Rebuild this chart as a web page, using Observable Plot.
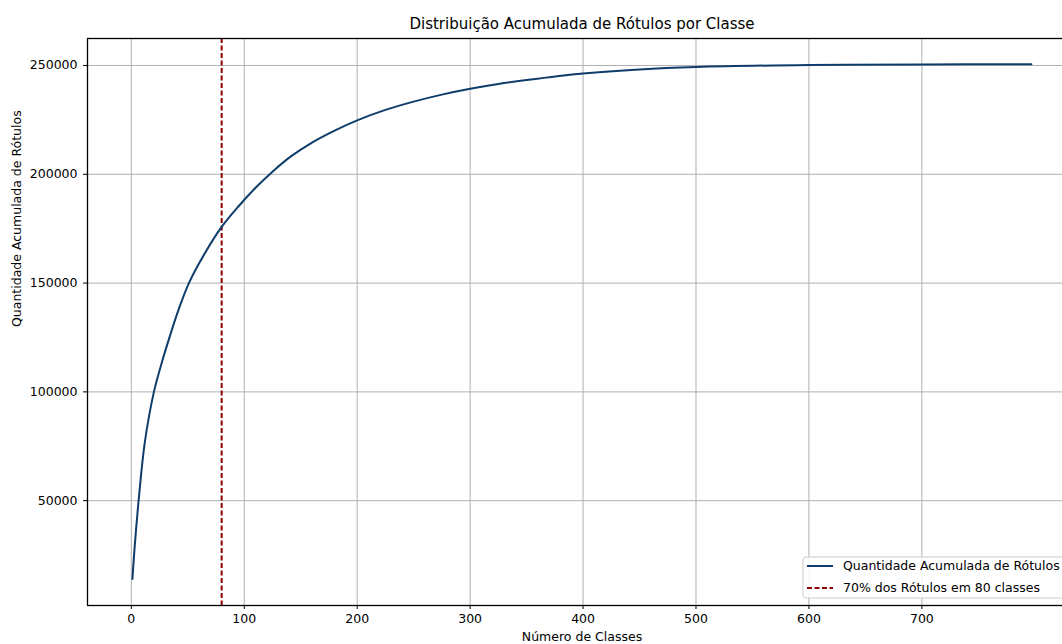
<!DOCTYPE html>
<html><head><meta charset="utf-8">
<script src="https://cdn.jsdelivr.net/npm/d3@7"></script>
<script src="https://cdn.jsdelivr.net/npm/@observablehq/plot@0.6"></script>
<style>
html,body{margin:0;padding:0;background:#fff;overflow:hidden;}
#chart{position:relative;width:1062px;height:644px;overflow:hidden;}
</style></head><body><div id="chart"></div>
<script>
// Data
const classCount = [1, 3, 7, 12, 20, 27, 34, 42, 51, 65, 80, 95, 110, 125, 141, 160, 180, 200, 225, 250, 275, 300, 325, 350, 400, 450, 500, 600, 700, 797];
const cumulativeLabels = [14000, 29000, 53000, 77000, 100000, 113500, 125400, 138000, 150000, 163600, 175800, 185300, 193800, 201200, 208100, 214600, 220100, 224800, 229600, 233400, 236600, 239300, 241500, 243300, 246300, 248200, 249300, 250200, 250450, 250600];
const thresholdClasses = [80];
const xTicks = [0, 100, 200, 300, 400, 500, 600, 700];
const yTicks = [50000, 100000, 150000, 200000, 250000];
const titleText = "Distribuição Acumulada de Rótulos por Classe";
const xLabel = "Número de Classes";
const yLabel = "Quantidade Acumulada de Rótulos";
const legendLabels = ["Quantidade Acumulada de Rótulos", "70% dos Rótulos em 80 classes"];

const data = classCount.map((c, i) => ({c, v: cumulativeLabels[i]}));
const font = "DejaVu Sans, sans-serif";
const lineColor = "#0e3d6b";
const redColor = "#8b0000";

const plot = Plot.plot({
  width: 1062, height: 644,
  marginLeft: 87, marginRight: -2, marginTop: 38, marginBottom: 39,
  style: {fontFamily: font, fontSize: "12.5px", color: "#000", background: "#fff"},
  x: {domain: [-38.8, 826.3], label: null},
  y: {domain: [1835, 262400], label: null},
  marks: [
    Plot.gridX(xTicks, {stroke: "#b0b0b0", strokeOpacity: 1, strokeWidth: 1}),
    Plot.gridY(yTicks, {stroke: "#b0b0b0", strokeOpacity: 1, strokeWidth: 1}),
    Plot.ruleX(thresholdClasses, {stroke: redColor, strokeWidth: 2, strokeDasharray: "5,2.5"}),
    Plot.line(data, {x: "c", y: "v", stroke: lineColor, strokeWidth: 2, curve: "catmull-rom"}),
    Plot.frame({stroke: "#000", strokeWidth: 1.3}),
    Plot.axisX({ticks: xTicks, tickSize: 4, tickPadding: 5, tickFormat: d3.format("d"), label: null}),
    Plot.axisY({ticks: yTicks, tickSize: 4, tickPadding: 6, tickFormat: d3.format("d"), label: null}),
    Plot.text([titleText], {text: d => d, frameAnchor: "top", dx: 6, dy: -14.5, lineAnchor: "middle", fontSize: 15}),
    Plot.text([xLabel], {text: d => d, frameAnchor: "bottom", dx: 6, dy: 31, lineAnchor: "middle"}),
    Plot.text([yLabel], {text: d => d, frameAnchor: "left", dx: -71, dy: 5, rotate: -90, lineAnchor: "middle"})
  ]
});

// Legend (bottom right, clipped at the right edge like the reference)
const svg = d3.select(plot);
const lg = svg.append("g").attr("font-family", font).attr("font-size", 12.5).attr("text-anchor", "start");
lg.append("rect").attr("x", 803).attr("y", 557).attr("width", 300).attr("height", 41).attr("rx", 3)
  .attr("fill", "white").attr("fill-opacity", 0.85).attr("stroke", "#cccccc");
const styles = [{stroke: lineColor, dash: null}, {stroke: redColor, dash: "5,2.5"}];
legendLabels.forEach((t, i) => {
  const y = 566 + i * 22;
  const l = lg.append("line").attr("x1", 807).attr("x2", 833).attr("y1", y).attr("y2", y)
    .attr("stroke", styles[i].stroke).attr("stroke-width", 2);
  if (styles[i].dash) l.attr("stroke-dasharray", styles[i].dash);
  lg.append("text").attr("x", 843).attr("y", y).attr("dy", "0.35em").attr("text-anchor", "start").attr("fill", "#000").text(t);
});

document.getElementById("chart").appendChild(plot);
</script>
</body></html>
